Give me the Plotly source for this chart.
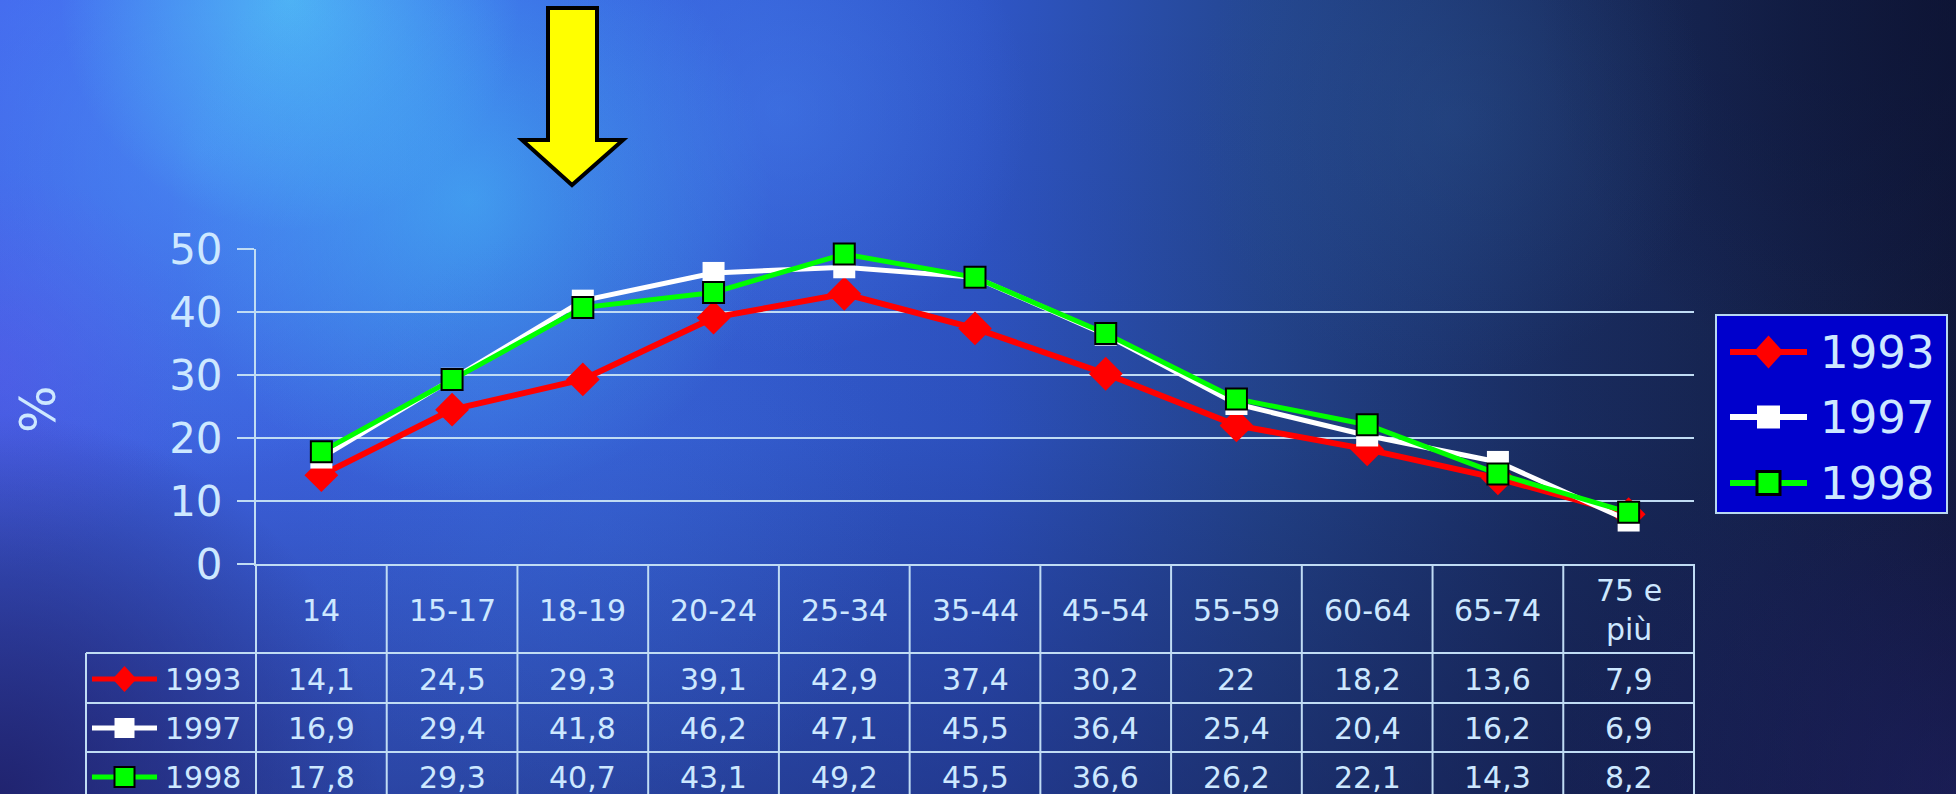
import base64
import plotly.graph_objects as go

# ---------------- data ----------------
categories = ["14", "15-17", "18-19", "20-24", "25-34", "35-44", "45-54",
              "55-59", "60-64", "65-74", "75 e più"]
header_labels = ["14", "15-17", "18-19", "20-24", "25-34", "35-44", "45-54",
                 "55-59", "60-64", "65-74", "75 e<br>più"]
years = ["1993", "1997", "1998"]
v1993 = [14.1, 24.5, 29.3, 39.1, 42.9, 37.4, 30.2, 22, 18.2, 13.6, 7.9]
v1997 = [16.9, 29.4, 41.8, 46.2, 47.1, 45.5, 36.4, 25.4, 20.4, 16.2, 6.9]
v1998 = [17.8, 29.3, 40.7, 43.1, 49.2, 45.5, 36.6, 26.2, 22.1, 14.3, 8.2]
y_tick_values = [0, 10, 20, 30, 40, 50]
y_axis_title = "%"

series = {"1993": v1993, "1997": v1997, "1998": v1998}

# ---------------- styles / layout constants ----------------
W, H = 1956, 794
L, R, T, B = 256, 1694, 249, 564          # plot area in pixels
TXT = "#CDE8FF"
GRID = "#C0DCF4"
FONT = "DejaVu Sans"
TFS = 30                                   # table font size

styles = {
    "1993": dict(color="#FF0000", symbol="diamond", size=26, lw=6, mlw=0, mlc="#FF0000"),
    "1997": dict(color="#FFFFFF", symbol="square", size=22, lw=5, mlw=0, mlc="#FFFFFF"),
    "1998": dict(color="#00FF00", symbol="square", size=21, lw=5, mlw=2, mlc="#000000"),
}


def px_x(px):
    return (px - L) / (R - L)


def px_y(py):
    return (B - py) / (B - T)


def fmt(v):
    return f"{v:g}".replace(".", ",")


# ---------------- background image (decorative) ----------------
def radial(id_, color, op):
    return (f'<radialGradient id="{id_}"><stop offset="0" stop-color="{color}" stop-opacity="{op}"/>'
            f'<stop offset="1" stop-color="{color}" stop-opacity="0"/></radialGradient>')


blobs = [
    ("b0", "#4A92F6", 0.65, 200, 150, 330),
    ("b1", "#58E2FA", 0.55, 290, 0, 230),
    ("b2", "#46C2F8", 0.55, 470, 200, 300),
    ("b3", "#4C8CF8", 0.35, 780, 110, 250),
    ("b4", "#5E58EC", 0.40, 0, 370, 200),
    ("b5", "#1E1E66", 0.85, 0, 794, 380),
    ("b6", "#0A1030", 0.55, 1956, 0, 420),
    ("b7", "#3A6AD8", 0.30, 600, 520, 300),
    ("b8", "#2A2A80", 0.35, 1956, 794, 400),
    ("b9", "#2E5C9A", 0.30, 1450, 120, 260),
]
defs = "".join(radial(b[0], b[1], b[2]) for b in blobs)
defs += ('<linearGradient id="gx" x1="0" y1="0" x2="1" y2="0">'
         '<stop offset="0" stop-color="#4466EE"/><stop offset="0.25" stop-color="#3C6AE8"/>'
         '<stop offset="0.5" stop-color="#2F56C8"/><stop offset="0.65" stop-color="#24468F"/>'
         '<stop offset="0.8" stop-color="#1A2E62"/><stop offset="1" stop-color="#121A3C"/></linearGradient>'
         '<linearGradient id="gy" x1="0" y1="0" x2="0" y2="1">'
         '<stop offset="0" stop-color="#0A0A32" stop-opacity="0"/>'
         '<stop offset="0.55" stop-color="#0A0A32" stop-opacity="0.08"/>'
         '<stop offset="1" stop-color="#0F0F3C" stop-opacity="0.4"/></linearGradient>')
body = '<rect width="1956" height="794" fill="url(#gx)"/><rect width="1956" height="794" fill="url(#gy)"/>'
for b in blobs:
    body += f'<circle cx="{b[3]}" cy="{b[4]}" r="{b[5]}" fill="url(#{b[0]})"/>'
svg = (f'<svg xmlns="http://www.w3.org/2000/svg" width="{W}" height="{H}" viewBox="0 0 {W} {H}" '
       f'preserveAspectRatio="none"><defs>{defs}</defs>{body}</svg>')
bg_src = "data:image/svg+xml;base64," + base64.b64encode(svg.encode()).decode()

# ---------------- figure ----------------
fig = go.Figure()
for yr in years:
    s = styles[yr]
    fig.add_trace(go.Scatter(
        x=categories, y=series[yr], name=yr, mode="lines+markers",
        line=dict(color=s["color"], width=s["lw"]),
        marker=dict(symbol=s["symbol"], size=s["size"], color=s["color"],
                    line=dict(color=s["mlc"], width=s["mlw"])),
        cliponaxis=False, showlegend=False,
    ))

shapes = []
annotations = []

# table grid
n = len(categories)
row_lines = [653, 703, 752]
table_bottom = 805
for i in range(n + 1):
    xp = i / n
    shapes.append(dict(type="line", xref="paper", yref="paper", x0=xp, x1=xp,
                       y0=0, y1=px_y(table_bottom), line=dict(color=GRID, width=2)))
for ry in row_lines:
    shapes.append(dict(type="line", xref="paper", yref="paper", x0=px_x(86), x1=1,
                       y0=px_y(ry), y1=px_y(ry), line=dict(color=GRID, width=2)))
shapes.append(dict(type="line", xref="paper", yref="paper", x0=px_x(86), x1=px_x(86),
                   y0=px_y(653), y1=px_y(table_bottom), line=dict(color=GRID, width=2)))

# header labels (category index positions on the x axis)
for i, lab in enumerate(header_labels):
    annotations.append(dict(x=i, xref="x", y=px_y(610), yref="paper", text=lab,
                            showarrow=False, xanchor="center", yanchor="middle",
                            font=dict(family=FONT, size=TFS, color=TXT)))

# value rows
row_centers = {"1993": 679, "1997": 728, "1998": 777}
for yr in years:
    for i, v in enumerate(series[yr]):
        annotations.append(dict(x=i, xref="x", y=px_y(row_centers[yr]), yref="paper",
                                text=fmt(v), showarrow=False, xanchor="center",
                                yanchor="middle",
                                font=dict(family=FONT, size=TFS, color=TXT)))


def key_icon(x0, x1, yc, s, lw, dw, dh, sq, border):
    xm = (x0 + x1) / 2
    out = [dict(type="line", xref="paper", yref="paper", x0=px_x(x0), x1=px_x(x1),
                y0=px_y(yc), y1=px_y(yc), line=dict(color=s["color"], width=lw))]
    if s["symbol"] == "diamond":
        path = (f"M{px_x(xm - dw / 2)},{px_y(yc)} L{px_x(xm)},{px_y(yc - dh / 2)} "
                f"L{px_x(xm + dw / 2)},{px_y(yc)} L{px_x(xm)},{px_y(yc + dh / 2)} Z")
        out.append(dict(type="path", xref="paper", yref="paper", path=path,
                        fillcolor=s["color"], line=dict(width=0)))
    else:
        out.append(dict(type="rect", xref="paper", yref="paper",
                        x0=px_x(xm - sq / 2), x1=px_x(xm + sq / 2),
                        y0=px_y(yc + sq / 2), y1=px_y(yc - sq / 2),
                        fillcolor=s["color"],
                        line=dict(color=s["mlc"], width=border if s["mlw"] else 0)))
    return out


# row keys in table
for yr in years:
    shapes += key_icon(92, 157, row_centers[yr], styles[yr], 5, 24, 26, 20, 2)
    annotations.append(dict(x=px_x(163), xref="paper", y=px_y(row_centers[yr]), yref="paper",
                            text=yr, showarrow=False, xanchor="left", yanchor="middle",
                            font=dict(family=FONT, size=TFS, color=TXT)))

# legend box
shapes.append(dict(type="rect", xref="paper", yref="paper", x0=px_x(1716), x1=px_x(1947),
                   y0=px_y(513), y1=px_y(315), fillcolor="#0000CC",
                   line=dict(color="#B8D8F0", width=2)))
leg_centers = {"1993": 352, "1997": 417, "1998": 483}
for yr in years:
    shapes += key_icon(1730, 1807, leg_centers[yr], styles[yr], 6, 30, 33, 23, 3)
    annotations.append(dict(x=px_x(1818), xref="paper", y=px_y(leg_centers[yr]), yref="paper",
                            text=yr, showarrow=False, xanchor="left", yanchor="middle",
                            font=dict(family=FONT, size=45, color=TXT)))

# yellow arrow (decorative)
arrow_pts = [(548, 8), (597, 8), (597, 140), (623, 140), (572, 185), (522, 140), (548, 140)]
arrow_path = "M" + " L".join(f"{px_x(a)},{px_y(b)}" for a, b in arrow_pts) + " Z"
shapes.append(dict(type="path", xref="paper", yref="paper", path=arrow_path,
                   fillcolor="#FFFF00", line=dict(color="#000000", width=4)))

# y axis title
annotations.append(dict(x=px_x(38), xref="paper", y=px_y(409), yref="paper", text=y_axis_title,
                        textangle=-90, showarrow=False, xanchor="center", yanchor="middle",
                        font=dict(family=FONT, size=50, color=TXT)))

fig.update_layout(
    width=W, height=H,
    margin=dict(l=L, r=W - R, t=T, b=H - B, pad=0),
    paper_bgcolor="#1E2E70",
    plot_bgcolor="rgba(0,0,0,0)",
    showlegend=False,
    font=dict(family=FONT, color=TXT),
    shapes=shapes,
    annotations=annotations,
    images=[dict(source=bg_src, xref="paper", yref="paper",
                 x=px_x(0), y=px_y(0), sizex=W / (R - L), sizey=H / (B - T),
                 xanchor="left", yanchor="top", sizing="stretch", layer="below")],
    xaxis=dict(type="category", categoryorder="array", categoryarray=categories,
               range=[-0.5, n - 0.5], showticklabels=False, ticks="", showgrid=False,
               zeroline=False, showline=True, linecolor=GRID, linewidth=2, fixedrange=True),
    yaxis=dict(range=[0, 50], tickvals=y_tick_values, showgrid=True, gridcolor=GRID,
               gridwidth=2, ticks="outside", ticklen=17, tickwidth=2, tickcolor=GRID,
               showline=True, linecolor=GRID, linewidth=2, zeroline=False,
               tickfont=dict(family=FONT, size=42, color=TXT), ticklabelstandoff=6,
               fixedrange=True),
)

fig.write_html("out.html")
